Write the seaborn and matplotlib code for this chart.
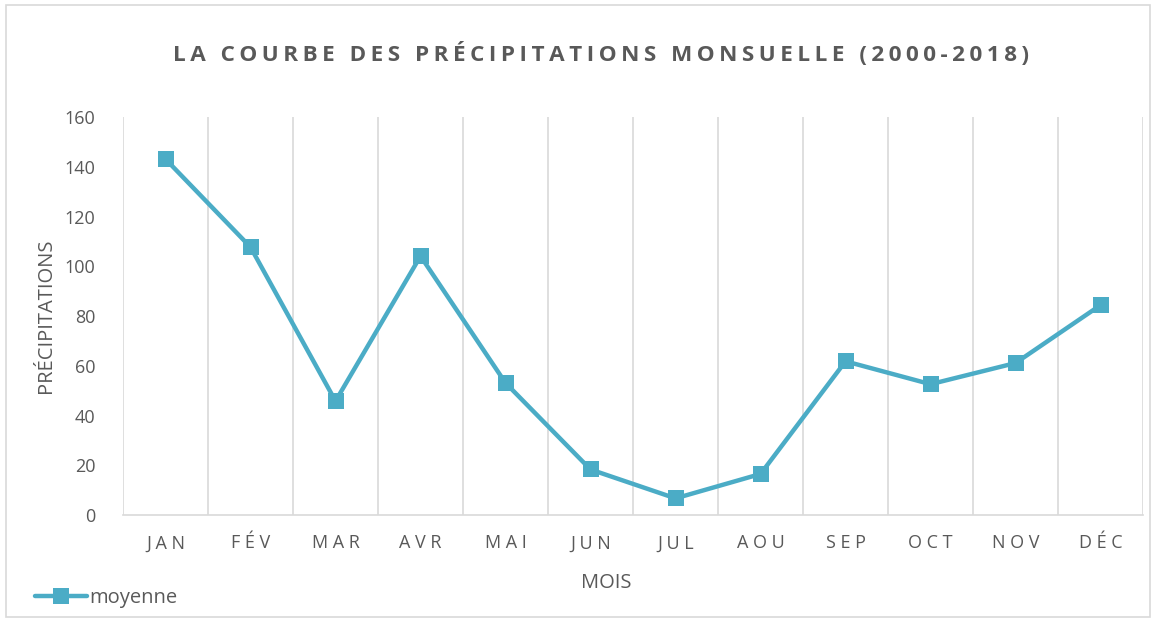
import matplotlib
matplotlib.use("Agg")
import matplotlib.pyplot as plt
import seaborn as sns
import pandas as pd
from matplotlib.lines import Line2D
from matplotlib.patches import Rectangle

# data
mois = ["JAN", "FÉV", "MAR", "AVR", "MAI", "JUN", "JUL", "AOU", "SEP", "OCT", "NOV", "DÉC"]
moyenne = [143.1, 107.7, 45.8, 104.1, 53.1, 18.3, 6.7, 16.5, 61.8, 52.6, 61.1, 84.4]
titre = "LA COURBE DES PRÉCIPITATIONS MONSUELLE (2000-2018)"

df = pd.DataFrame({"Mois": mois, "Moyenne": moyenne})

sns.set_theme(style="white")
plt.rcParams["font.family"] = ["Open Sans", "DejaVu Sans"]

blue = "#4BACC6"
grey_text = "#595959"
grid_col = "#D9D9D9"


def spaced(s, sep):
    return sep.join(s)


fig = plt.figure(figsize=(11.56, 6.22), dpi=100)
ax = fig.add_axes([0.1064, 0.172, 0.8824, 0.6398])

sns.lineplot(data=df, x="Mois", y="Moyenne", sort=False, color=blue,
             linewidth=3.2, marker="s", markersize=11, markeredgewidth=0, ax=ax)

ax.set_xlim(-0.5, len(mois) - 0.5)
ax.set_ylim(0, 160)
ax.set_yticks(range(0, 161, 20))
ax.set_xticks(range(len(mois)))
ax.set_xticklabels([spaced(m, " ") for m in mois])
ax.set_xticks([i - 0.5 for i in range(len(mois) + 1)], minor=True)
ax.grid(which="minor", axis="x", color=grid_col, linewidth=1.2)
ax.grid(which="major", visible=False)

for side in ["top", "right", "left"]:
    ax.spines[side].set_visible(False)
ax.spines["bottom"].set_color(grid_col)
ax.spines["bottom"].set_linewidth(1.2)
ax.tick_params(axis="both", which="both", length=0, colors=grey_text, labelsize=13)
ax.tick_params(axis="x", pad=14)
ax.tick_params(axis="y", pad=20)

ax.set_xlabel("MOIS", fontsize=14.5, color=grey_text)
ax.xaxis.set_label_coords(0.4735, -0.145)
ax.set_ylabel("PRÉCIPITATIONS", fontsize=14.5, color=grey_text, labelpad=6)

fig.text(0.52, 0.913, spaced(titre, "\u2009"),
         ha="center", va="center", fontsize=16.2, fontweight="bold", color=grey_text)

handle = Line2D([], [], color=blue, linewidth=3.2, marker="s", markersize=11, markeredgewidth=0)
fig.legend([handle], ["moyenne"], loc="center left", bbox_to_anchor=(0.015, 0.038),
           frameon=False, fontsize=14.5, handlelength=2.55, handletextpad=0.12,
           labelcolor=grey_text)

fig.patches.append(Rectangle((0.005, 0.008), 0.99, 0.984, transform=fig.transFigure,
                             fill=False, edgecolor=grid_col, linewidth=1.2))

fig.savefig("out.png", dpi=100)
